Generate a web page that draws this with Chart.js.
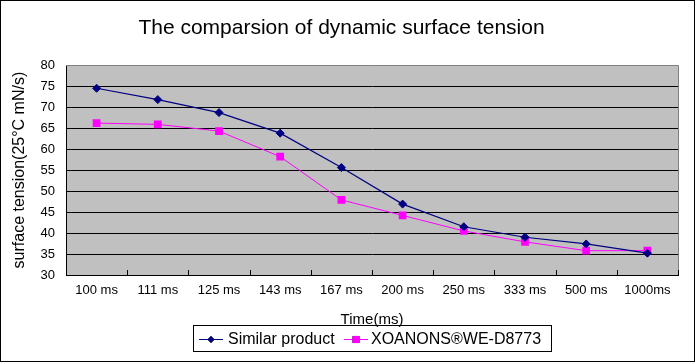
<!DOCTYPE html>
<html>
<head>
<meta charset="utf-8">
<script src="https://cdn.jsdelivr.net/npm/chart.js@4/dist/chart.umd.min.js"></script>
<style>
  html, body { margin: 0; padding: 0; background: #fff; }
  #wrap { width: 695px; height: 362px; }
</style>
</head>
<body>
<div id="wrap"><canvas id="c" width="695" height="362"></canvas></div>
<script>
const categories = ["100 ms", "111 ms", "125 ms", "143 ms", "167 ms", "200 ms", "250 ms", "333 ms", "500 ms", "1000ms"];
const similarProduct = [74.5, 71.8, 68.7, 63.8, 55.6, 46.9, 41.5, 39.0, 37.4, 35.2];
const xoanons = [66.2, 65.9, 64.3, 58.2, 47.9, 44.2, 40.5, 37.9, 35.8, 35.8];
const seriesNames = ["Similar product", "XOANONS\u00AEWE-D8773"];
const yTicks = [30, 35, 40, 45, 50, 55, 60, 65, 70, 75, 80];
const chartTitle = "The comparsion of dynamic surface tension";
const xTitle = "Time(ms)";
const yTitle = "surface tension(25\u00B0C mN/s)";

const FONT = "'Liberation Sans', Arial, sans-serif";

const decor = {
  id: 'decor',
  beforeDraw(chart) {
    const { ctx, chartArea: a } = chart;
    ctx.save();
    ctx.fillStyle = '#fff';
    ctx.fillRect(0, 0, chart.width, chart.height);
    ctx.fillStyle = '#C0C0C0';
    ctx.fillRect(a.left, a.top, a.right - a.left, a.bottom - a.top);
    ctx.restore();
  },
  beforeDatasetsDraw(chart) {
    const { ctx, chartArea: a, scales } = chart;
    ctx.save();
    ctx.strokeStyle = '#808080';
    ctx.lineWidth = 1;
    ctx.beginPath();
    ctx.moveTo(a.left, Math.round(a.top) + 0.5);
    ctx.lineTo(Math.round(a.right) + 0.5, Math.round(a.top) + 0.5);
    ctx.lineTo(Math.round(a.right) + 0.5, Math.round(a.bottom));
    ctx.stroke();
    const x = scales.x;
    const n = categories.length;
    const step = (x.getPixelForValue(1) - x.getPixelForValue(0));
    ctx.strokeStyle = '#000';
    ctx.beginPath();
    for (let i = 0; i <= n; i++) {
      const px = Math.round(x.getPixelForValue(i) - step / 2) + 0.5;
      ctx.moveTo(px, Math.round(a.bottom));
      ctx.lineTo(px, Math.round(a.bottom) - 5);
    }
    ctx.stroke();
    ctx.restore();
  },
  afterDraw(chart) {
    const { ctx } = chart;
    ctx.save();
    ctx.strokeStyle = '#000';
    ctx.lineWidth = 1;
    ctx.strokeRect(0.5, 0.5, chart.width - 1, chart.height - 1);
    const bx = 193.5, by = 325.5, bw = 358, bh = 26;
    ctx.strokeRect(bx, by, bw, bh);
    const cy = by + bh / 2;
    const items = [
      { x: 199, tx: 228, ds: chart.data.datasets[0] },
      { x: 344, tx: 371, ds: chart.data.datasets[1] }
    ];
    ctx.font = '16px ' + FONT;
    ctx.textBaseline = 'middle';
    ctx.textAlign = 'left';
    items.forEach(it => {
      ctx.strokeStyle = it.ds.borderColor;
      ctx.lineWidth = 1;
      ctx.beginPath();
      ctx.moveTo(it.x, Math.round(cy) + 0.5);
      ctx.lineTo(it.x + 24, Math.round(cy) + 0.5);
      ctx.stroke();
      Chart.helpers.drawPoint(ctx, {
        pointStyle: it.ds.pointStyle,
        radius: it.ds.legendRadius,
        borderWidth: 0
      }, it.x + 12, Math.round(cy) + 0.5);
      ctx.fillStyle = it.ds.pointBackgroundColor;
      ctx.fill();
      ctx.fillStyle = '#000';
      ctx.fillText(it.ds.label, it.tx, cy + 1);
    });
    ctx.restore();
  }
};

new Chart(document.getElementById('c'), {
  type: 'line',
  data: {
    labels: categories,
    datasets: [
      {
        label: seriesNames[0],
        data: similarProduct,
        borderColor: '#000080',
        backgroundColor: '#000080',
        pointBackgroundColor: '#000080',
        pointBorderColor: '#000080',
        borderWidth: 1.2,
        pointStyle: 'rectRot',
        pointRadius: 4,
        pointBorderWidth: 1,
        legendRadius: 3.5,
        tension: 0
      },
      {
        label: seriesNames[1],
        data: xoanons,
        borderColor: '#FF00FF',
        backgroundColor: '#FF00FF',
        pointBackgroundColor: '#FF00FF',
        pointBorderColor: '#FF00FF',
        borderWidth: 1,
        pointStyle: 'rect',
        pointRadius: 5.5,
        pointBorderWidth: 0,
        legendRadius: 5,
        tension: 0
      }
    ]
  },
  options: {
    responsive: false,
    animation: false,
    devicePixelRatio: 1,
    layout: { padding: { left: 5, right: 17, top: 0, bottom: 33 } },
    plugins: {
      legend: { display: false },
      tooltip: { enabled: false },
      title: {
        display: true,
        text: chartTitle,
        color: '#000',
        font: { family: FONT, size: 21, weight: 'normal', lineHeight: 1.2 },
        padding: { top: 16, bottom: 24 }
      }
    },
    scales: {
      x: {
        type: 'category',
        offset: true,
        grid: { display: false, drawTicks: false, offset: true },
        border: { display: true, color: '#000', width: 1 },
        ticks: {
          color: '#000',
          font: { family: FONT, size: 13 },
          padding: 8,
          maxRotation: 0,
          autoSkip: false
        },
        title: {
          display: true,
          text: xTitle,
          color: '#000',
          font: { family: FONT, size: 15 },
          padding: { top: 0, bottom: 0 }
        },
        afterFit: s => { s.height = 362 - 33 - 275; }
      },
      y: {
        min: 30,
        max: 80,
        afterBuildTicks: s => { s.ticks = yTicks.map(v => ({ value: v })); },
        grid: {
          color: ctx => (ctx.tick && ctx.tick.value === 80) ? 'rgba(0,0,0,0)' : '#000',
          lineWidth: 1,
          drawTicks: false
        },
        border: { display: true, color: '#000', width: 1 },
        ticks: {
          color: '#000',
          font: { family: FONT, size: 13 },
          padding: 11
        },
        title: {
          display: true,
          text: yTitle,
          color: '#000',
          font: { family: FONT, size: 16 },
          padding: { top: 5, bottom: 0 }
        },
        afterFit: s => { s.width = 61; }
      }
    }
  },
  plugins: [decor]
});
</script>
</body>
</html>
